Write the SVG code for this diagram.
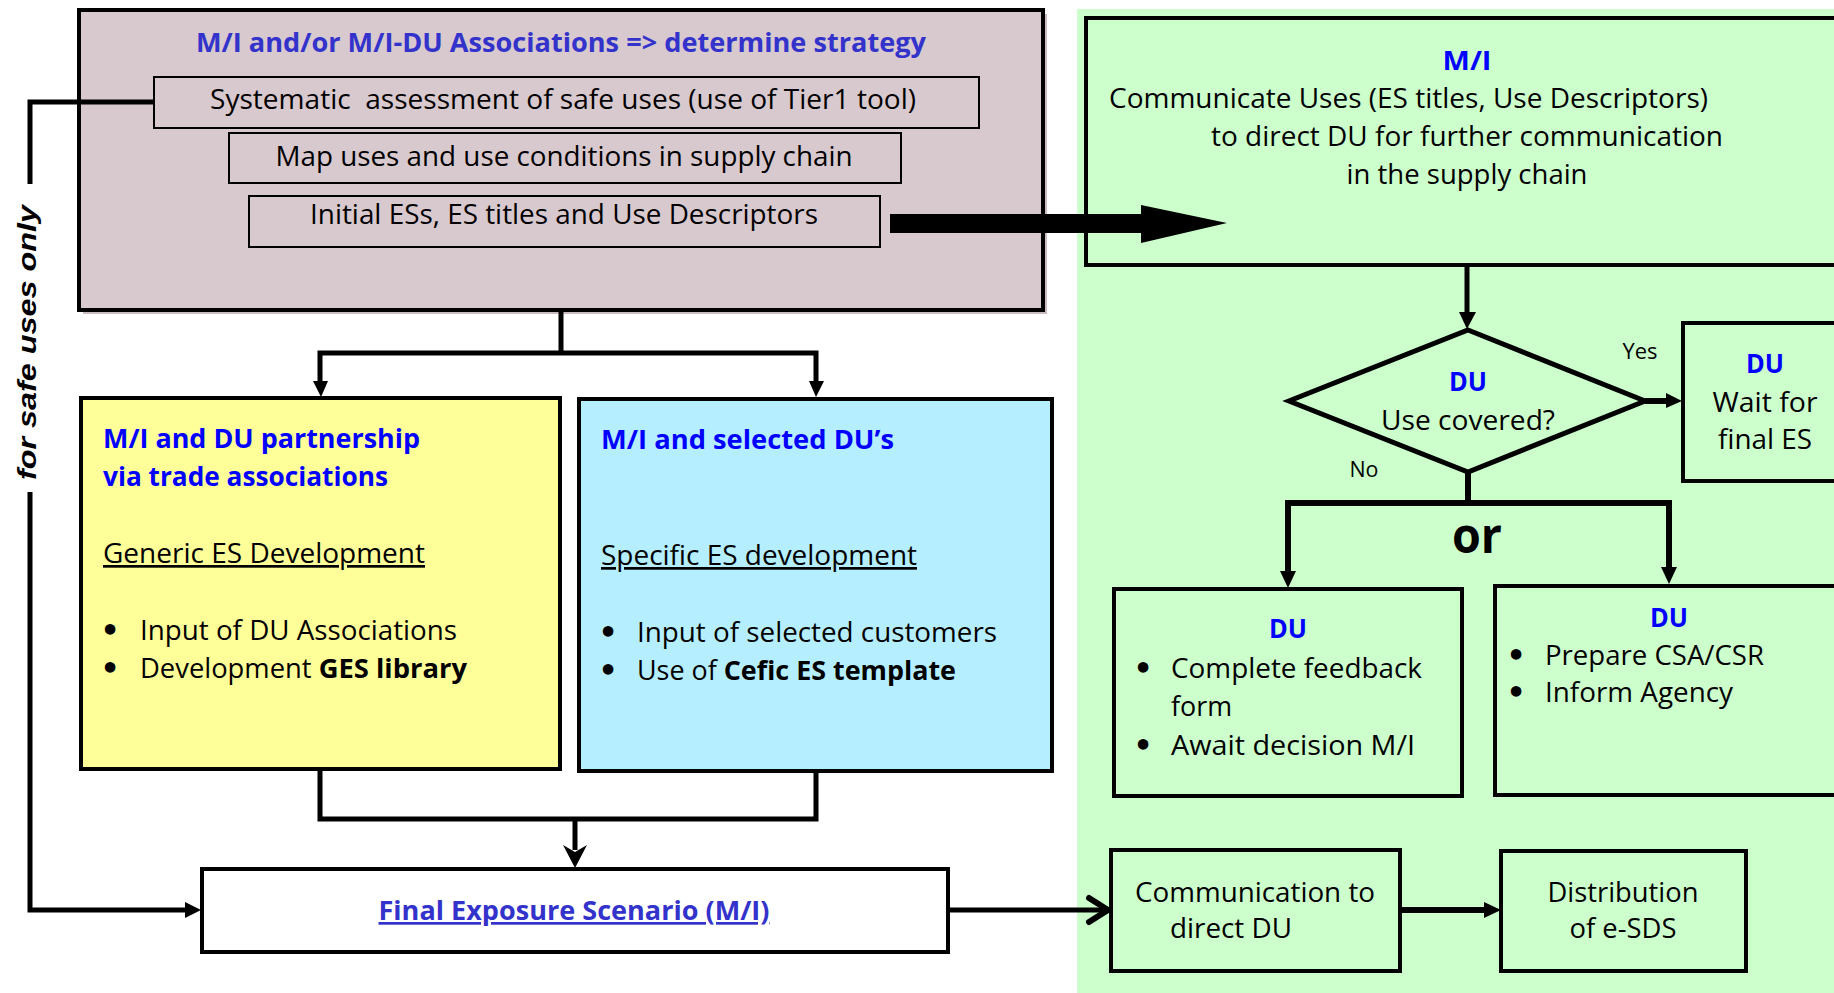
<svg xmlns="http://www.w3.org/2000/svg" width="1834" height="993" viewBox="0 0 1834 993">
<defs>
<style>
.t{font-family:"Open Sans","Noto Sans",sans-serif;font-size:27px;fill:#000}
.b{font-weight:bold}
.blue{fill:#0000ff;font-weight:bold}
.mblue{fill:#3333cc;font-weight:bold}
.u{text-decoration:underline}
.bul{font-family:"DejaVu Sans",sans-serif;font-size:30px;font-weight:bold;text-anchor:middle;fill:#000}
.box{stroke:#000;stroke-width:4}
.sub{fill:none;stroke:#000;stroke-width:2}
.ln{fill:none;stroke:#000;stroke-width:5}
.ah{fill:#000}
</style>
</defs>
<rect x="0" y="0" width="1834" height="993" fill="#fff"/>
<rect id="green-area" x="1077" y="9" width="757" height="984" fill="#ccffcc"/>

<g id="strategy">
<rect x="83" y="14" width="964" height="300" fill="#cbbcc1"/>
<rect class="box" x="79" y="10" width="964" height="300" fill="#d8c9ce"/>
<text class="t mblue" x="561" y="52" text-anchor="middle" textLength="730" lengthAdjust="spacingAndGlyphs">M/I and/or M/I-DU Associations =&gt; determine strategy</text>
<rect class="sub" x="154" y="77" width="825" height="51"/>
<text class="t" style="white-space:pre" x="563" y="109" text-anchor="middle" textLength="706" lengthAdjust="spacingAndGlyphs">Systematic  assessment of safe uses (use of Tier1 tool)</text>
<rect class="sub" x="229" y="133" width="672" height="50"/>
<text class="t" x="564" y="166" text-anchor="middle" textLength="577" lengthAdjust="spacingAndGlyphs">Map uses and use conditions in supply chain</text>
<rect class="sub" x="249" y="196" width="631" height="51"/>
<text class="t" x="564" y="224" text-anchor="middle" textLength="508" lengthAdjust="spacingAndGlyphs">Initial ESs, ES titles and Use Descriptors</text>
</g>

<g id="mi-communicate">
<rect class="box" x="1086" y="18" width="760" height="247" fill="#ccffcc"/>
<text class="t blue" x="1467" y="70" text-anchor="middle" textLength="49" lengthAdjust="spacingAndGlyphs">M/I</text>
<text class="t" x="1109" y="108" textLength="599" lengthAdjust="spacingAndGlyphs">Communicate Uses (ES titles, Use Descriptors)</text>
<text class="t" x="1467" y="146" text-anchor="middle" textLength="512" lengthAdjust="spacingAndGlyphs">to direct DU for further communication</text>
<text class="t" x="1467" y="184" text-anchor="middle" textLength="241" lengthAdjust="spacingAndGlyphs">in the supply chain</text>
</g>

<g id="partnership">
<rect class="box" x="81" y="398" width="479" height="371" fill="#ffff99"/>
<text class="t blue" x="103" y="448" textLength="317" lengthAdjust="spacingAndGlyphs">M/I and DU partnership</text>
<text class="t blue" x="103" y="486" textLength="285" lengthAdjust="spacingAndGlyphs">via trade associations</text>
<text class="t u" x="103" y="563" textLength="322" lengthAdjust="spacingAndGlyphs">Generic ES Development</text>
<text class="bul" x="110" y="641">•</text>
<text class="t" x="140" y="640" textLength="317" lengthAdjust="spacingAndGlyphs">Input of DU Associations</text>
<text class="bul" x="110" y="679">•</text>
<text class="t" x="140" y="678" textLength="327" lengthAdjust="spacingAndGlyphs">Development <tspan class="b">GES library</tspan></text>
</g>

<g id="selected-du">
<rect class="box" x="579" y="399" width="473" height="372" fill="#b5efff"/>
<text class="t blue" x="601" y="449" textLength="293" lengthAdjust="spacingAndGlyphs">M/I and selected DU’s</text>
<text class="t u" x="601" y="565" textLength="316" lengthAdjust="spacingAndGlyphs">Specific ES development</text>
<text class="bul" x="608" y="643">•</text>
<text class="t" x="637" y="642" textLength="360" lengthAdjust="spacingAndGlyphs">Input of selected customers</text>
<text class="bul" x="608" y="681">•</text>
<text class="t" x="637" y="680" textLength="319" lengthAdjust="spacingAndGlyphs">Use of <tspan class="b">Cefic ES template</tspan></text>
</g>

<g id="final-es">
<rect class="box" x="202" y="869" width="746" height="83" fill="#fff"/>
<text class="t mblue u" x="574" y="920" text-anchor="middle" textLength="391" lengthAdjust="spacingAndGlyphs">Final Exposure Scenario (M/I)</text>
</g>

<g id="decision">
<polygon points="1468,330 1645,401 1468,472 1289,401" fill="#ccffcc" stroke="#000" stroke-width="5"/>
<text class="t blue" x="1468" y="391" text-anchor="middle" textLength="38" lengthAdjust="spacingAndGlyphs">DU</text>
<text class="t" x="1468" y="430" text-anchor="middle" textLength="174" lengthAdjust="spacingAndGlyphs">Use covered?</text>
</g>

<g id="wait">
<rect class="box" x="1683" y="323" width="160" height="158" fill="#ccffcc"/>
<text class="t blue" x="1765" y="373" text-anchor="middle" textLength="38" lengthAdjust="spacingAndGlyphs">DU</text>
<text class="t" x="1765" y="412" text-anchor="middle" textLength="105" lengthAdjust="spacingAndGlyphs">Wait for</text>
<text class="t" x="1765" y="449" text-anchor="middle" textLength="94" lengthAdjust="spacingAndGlyphs">final ES</text>
</g>

<g id="feedback">
<rect class="box" x="1114" y="589" width="348" height="207" fill="#ccffcc"/>
<text class="t blue" x="1288" y="638" text-anchor="middle" textLength="38" lengthAdjust="spacingAndGlyphs">DU</text>
<text class="bul" x="1143" y="679">•</text>
<text class="t" x="1171" y="678" textLength="251" lengthAdjust="spacingAndGlyphs">Complete feedback</text>
<text class="t" x="1171" y="716" textLength="61" lengthAdjust="spacingAndGlyphs">form</text>
<text class="bul" x="1143" y="756">•</text>
<text class="t" x="1171" y="755" textLength="244" lengthAdjust="spacingAndGlyphs">Await decision M/I</text>
</g>

<g id="csa">
<rect class="box" x="1495" y="586" width="350" height="209" fill="#ccffcc"/>
<text class="t blue" x="1669" y="627" text-anchor="middle" textLength="38" lengthAdjust="spacingAndGlyphs">DU</text>
<text class="bul" x="1516" y="666">•</text>
<text class="t" x="1545" y="665" textLength="219" lengthAdjust="spacingAndGlyphs">Prepare CSA/CSR</text>
<text class="bul" x="1516" y="703">•</text>
<text class="t" x="1545" y="702" textLength="188" lengthAdjust="spacingAndGlyphs">Inform Agency</text>
</g>

<g id="communication">
<rect class="box" x="1111" y="850" width="289" height="121" fill="#ccffcc"/>
<text class="t" x="1255" y="902" text-anchor="middle" textLength="240" lengthAdjust="spacingAndGlyphs">Communication to</text>
<text class="t" x="1231" y="938" text-anchor="middle" textLength="122" lengthAdjust="spacingAndGlyphs">direct DU</text>
</g>

<g id="distribution">
<rect class="box" x="1501" y="851" width="245" height="120" fill="#ccffcc"/>
<text class="t" x="1623" y="902" text-anchor="middle" textLength="151" lengthAdjust="spacingAndGlyphs">Distribution</text>
<text class="t" x="1623" y="938" text-anchor="middle" textLength="107" lengthAdjust="spacingAndGlyphs">of e-SDS</text>
</g>

<g id="connectors">
<polyline class="ln" points="154,102 30,102 30,184"/>
<polyline class="ln" points="30,492 30,910 186,910"/>
<polygon class="ah" points="185,902 201,910 185,918"/>
<text class="t" style="font-family:'Liberation Sans',Arial,sans-serif;font-weight:bold;font-style:italic;font-size:25px" transform="translate(36,480) rotate(-90)" textLength="275" lengthAdjust="spacingAndGlyphs">for safe uses only</text>
<rect x="890" y="214" width="252" height="19" fill="#000"/>
<polygon class="ah" points="1141,205 1227,223 1141,243"/>
<polyline class="ln" points="561,310 561,353"/>
<polyline class="ln" points="320,384 320,353 816,353 816,384"/>
<polygon class="ah" points="313,381 328,381 321,397"/>
<polygon class="ah" points="809,381 824,381 816,397"/>
<polyline class="ln" points="320,769 320,819 816,819 816,771"/>
<polyline class="ln" points="575,819 575,850"/>
<polygon class="ah" points="563,845 575,852 587,845 575,868"/>
<line class="ln" x1="948" y1="910" x2="1106" y2="910"/>
<polyline points="1089,898 1108,910 1089,922" fill="none" stroke="#000" stroke-width="6" stroke-linecap="round" stroke-linejoin="round"/>
<line x1="1400" y1="910" x2="1486" y2="910" stroke="#000" stroke-width="6"/>
<polygon class="ah" points="1484,902 1501,910 1484,918"/>
<line class="ln" x1="1467" y1="265" x2="1467" y2="314"/>
<polygon class="ah" points="1459,312 1476,312 1467,329"/>
<line x1="1645" y1="401" x2="1668" y2="401" stroke="#000" stroke-width="6"/>
<polygon class="ah" points="1666,393 1682,401 1666,408"/>
<text class="t" style="font-size:22px" x="1640" y="359" text-anchor="middle" textLength="35" lengthAdjust="spacingAndGlyphs">Yes</text>
<text class="t" style="font-size:22px" x="1364" y="477" text-anchor="middle" textLength="29" lengthAdjust="spacingAndGlyphs">No</text>
<polyline class="ln" style="stroke-width:6" points="1468,472 1468,503"/>
<polyline class="ln" style="stroke-width:6" points="1288,574 1288,503 1669,503 1669,570"/>
<polygon class="ah" points="1280,571 1296,571 1288,588"/>
<polygon class="ah" points="1661,567 1677,567 1669,584"/>
<text class="t b" style="font-size:48px" x="1477" y="553" text-anchor="middle" textLength="50" lengthAdjust="spacingAndGlyphs">or</text>
</g>
</svg>
